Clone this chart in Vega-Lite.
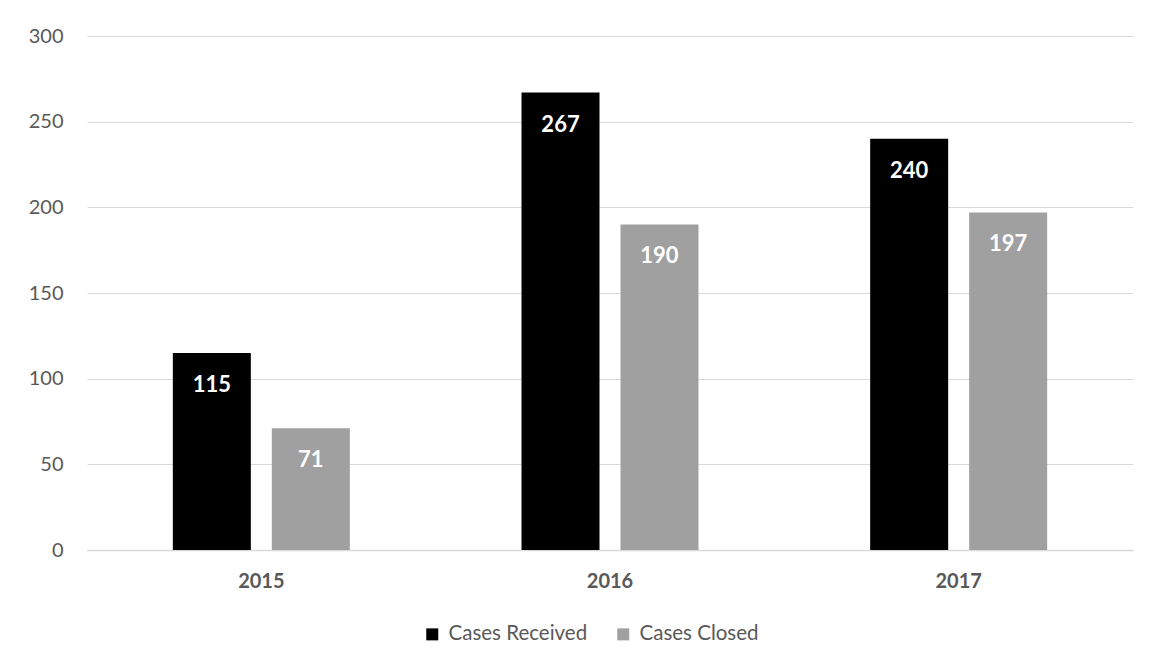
{
  "$schema": "https://vega.github.io/schema/vega-lite/v6.json",
  "width": 1046,
  "height": 514,
  "autosize": {"type": "none"},
  "padding": {"left": 87, "top": 36, "right": 16, "bottom": 118},
  "background": "white",
  "config": {
    "font": "Lato",
    "view": {"stroke": null},
    "axis": {"labelFont": "Lato", "labelColor": "#595959", "labelFontSize": 20, "title": null}
  },
  "data": {
    "values": [
      {"year": "2015", "series": "Cases Received", "value": 115},
      {"year": "2015", "series": "Cases Closed", "value": 71},
      {"year": "2016", "series": "Cases Received", "value": 267},
      {"year": "2016", "series": "Cases Closed", "value": 190},
      {"year": "2017", "series": "Cases Received", "value": 240},
      {"year": "2017", "series": "Cases Closed", "value": 197}
    ]
  },
  "encoding": {
    "x": {
      "field": "year",
      "type": "nominal",
      "scale": {"paddingInner": 0.4924, "paddingOuter": 0.2462},
      "axis": {
        "labelAngle": 0,
        "labelFontWeight": "bold",
        "ticks": false,
        "domain": true,
        "domainColor": "#d9d9d9",
        "domainWidth": 1.5,
        "labelPadding": 21
      }
    },
    "xOffset": {
      "field": "series",
      "type": "nominal",
      "sort": ["Cases Received", "Cases Closed"],
      "scale": {"paddingInner": 0.212, "paddingOuter": 0}
    },
    "y": {
      "field": "value",
      "type": "quantitative",
      "scale": {"domain": [0, 300], "nice": false},
      "axis": {
        "values": [0, 50, 100, 150, 200, 250, 300],
        "grid": true,
        "gridColor": "#d9d9d9",
        "gridWidth": 1.2,
        "domain": false,
        "ticks": false,
        "labelPadding": 24
      }
    }
  },
  "layer": [
    {
      "mark": {"type": "bar"},
      "encoding": {
        "color": {
          "field": "series",
          "type": "nominal",
          "scale": {"domain": ["Cases Received", "Cases Closed"], "range": ["#000000", "#a0a0a0"]},
          "legend": {
            "orient": "none",
            "legendX": 335,
            "legendY": 588,
            "direction": "horizontal",
            "title": null,
            "symbolType": "square",
            "symbolSize": 144,
            "symbolStrokeWidth": 0,
            "labelFont": "Lato",
            "labelFontSize": 20.5,
            "labelColor": "#595959",
            "labelOffset": 6,
            "columnPadding": 25
          }
        }
      }
    },
    {
      "mark": {"type": "text", "color": "white", "fontWeight": "bold", "baseline": "middle", "dy": 32, "font": "Lato", "fontSize": 22},
      "encoding": {"text": {"field": "value", "type": "quantitative"}}
    }
  ]
}
